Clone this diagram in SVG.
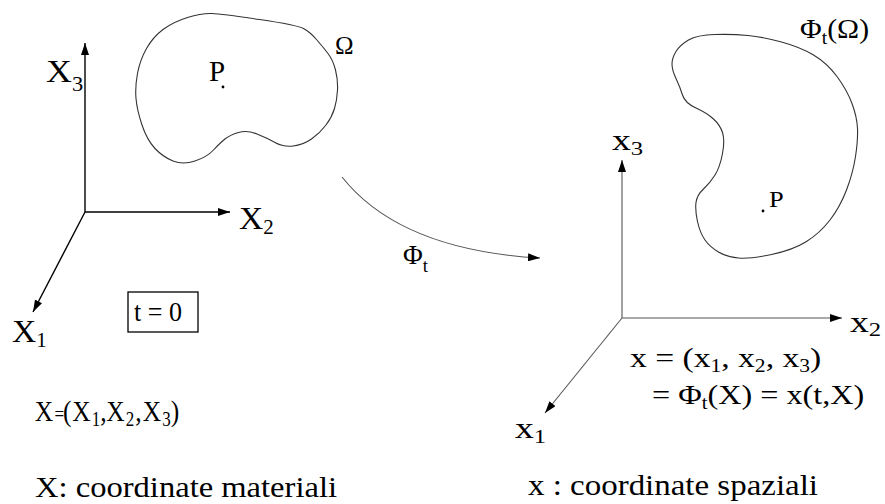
<svg xmlns="http://www.w3.org/2000/svg" width="885" height="504" viewBox="0 0 885 504" font-family="'Liberation Serif', 'Times New Roman', serif">
<style>
text{font-family:'Liberation Serif','Times New Roman',serif;fill:#000}
.ax{stroke:#000;stroke-width:1.4;fill:none}
.ax2{stroke:#555;stroke-width:1.1;fill:none}
.blob{stroke:#333;stroke-width:1.1;fill:none}
</style>
<defs>
<marker id="ah" viewBox="0 0 12 8" refX="12" refY="4" markerWidth="12" markerHeight="8" markerUnits="userSpaceOnUse" orient="auto">
<path d="M0,0 L12,4 L0,8 z" fill="#000"/>
</marker>
</defs>
<rect width="885" height="504" fill="#fff"/>
<g id="connectors">
<line class="ax" x1="85" y1="212" x2="85" y2="43" marker-end="url(#ah)"/>
<line class="ax" x1="85" y1="212" x2="230" y2="212" marker-end="url(#ah)"/>
<line class="ax" x1="85" y1="212" x2="33" y2="312" marker-end="url(#ah)"/>
<path class="ax2" d="M342,177 Q400,250 540,258" marker-end="url(#ah)"/>
<line class="ax2" x1="622" y1="318" x2="622" y2="160" marker-end="url(#ah)"/>
<line class="ax2" x1="622" y1="318" x2="842" y2="318" marker-end="url(#ah)"/>
<line class="ax2" x1="622" y1="318" x2="545" y2="413" marker-end="url(#ah)"/>
</g>
<g id="omega">
<path class="blob" d="M187.5,17.5 Q202,13 212,13.5 Q222,14 259.5,19.5 Q297,25 303.5,28.5 Q310,32 316.5,39.5 Q323,47 328,53.5 Q333,60 335.5,70 Q338,80 337.5,90 Q337,100 334.5,108.5 Q332,117 326,125 Q320,133 311.5,139 Q303,145 293,146 Q283,147 275,142.5 Q267,138 257,134 Q247,130 238.5,132.5 Q230,135 225,139 Q220,143 213.5,150 Q207,157 195,161 Q183,165 173,161 Q163,157 155,148.5 Q147,140 142,125 Q137,110 136,98.5 Q135,87 137.5,73.5 Q140,60 146.5,48.5 Q153,37 163,29.5 Q173,22 187.5,17.5 Z"/>
<text x="209" y="81" font-size="29">P</text>
<circle cx="223" cy="87" r="1.4" fill="#000"/>
<text x="335" y="54" font-size="25">Ω</text>
</g>
<g id="phi-omega">
<path class="blob" d="M688.5,40 Q697,35 715,34.5 Q733,34 748,35.5 Q763,37 781.5,42 Q800,47 813.5,55 Q827,63 837,76.5 Q847,90 852,103.5 Q857,117 857.5,128.5 Q858,140 855.5,156.5 Q853,173 846.5,190 Q840,207 830,220 Q820,233 806.5,241.5 Q793,250 771.5,254.5 Q750,259 738.5,258 Q727,257 718.5,252 Q710,247 705,240 Q700,233 697.5,221.5 Q695,210 696,202.5 Q697,195 703.5,189 Q710,183 715,175 Q720,167 722.5,153.5 Q725,140 722.5,132.5 Q720,125 713.5,119 Q707,113 696,108 Q685,103 682.5,95 Q680,87 676,78.5 Q672,70 672,64 Q672,58 676,51.5 Q680,45 688.5,40 Z"/>
<text transform="translate(769,207) scale(1.1,1)" font-size="24">P</text>
<circle cx="763" cy="211" r="1.4" fill="#000"/>
<text transform="translate(800,38) scale(1.1,1)" font-size="27">Φ<tspan font-size="18" dy="6">t</tspan><tspan dy="-6">(Ω)</tspan></text>
</g>
<g id="left-axes-labels">
<text transform="translate(46,82) scale(1.12,1)" font-size="32">X<tspan font-size="20" dy="9">3</tspan></text>
<text transform="translate(239,229) scale(1.05,1)" font-size="32">X<tspan font-size="20" dy="5">2</tspan></text>
<text transform="translate(12,342) scale(1.05,1)" font-size="32">X<tspan font-size="20" dy="5">1</tspan></text>
</g>
<g id="t0">
<rect x="128" y="292" width="70" height="40" fill="none" stroke="#000" stroke-width="1.3"/>
<text x="134" y="321" font-size="28" textLength="48" lengthAdjust="spacingAndGlyphs">t = 0</text>
</g>
<g id="phi-label">
<text x="403" y="264" font-size="27">Φ<tspan font-size="19" dy="8">t</tspan></text>
</g>
<g id="right-axes-labels">
<text transform="translate(612,150) scale(1.3,1)" font-size="29">x<tspan font-size="19" dy="5">3</tspan></text>
<text transform="translate(850,332) scale(1.3,1)" font-size="29">x<tspan font-size="19" dy="4">2</tspan></text>
<text transform="translate(515,438) scale(1.3,1)" font-size="29">x<tspan font-size="19" dy="5">1</tspan></text>
</g>
<g id="material-eq">
<text transform="scale(0.85,1)" font-size="30" y="421"><tspan x="41">X</tspan><tspan x="64" font-size="20">=</tspan><tspan x="74">(</tspan><tspan x="85">X</tspan><tspan x="108" font-size="20" dy="5">1</tspan><tspan x="118" dy="-5">,</tspan><tspan x="125">X</tspan><tspan x="148" font-size="20" dy="5">2</tspan><tspan x="159" dy="-5">,</tspan><tspan x="168">X</tspan><tspan x="191" font-size="20" dy="5">3</tspan><tspan x="201" dy="-5">)</tspan></text>
<text x="35" y="497" font-size="30" textLength="302" lengthAdjust="spacingAndGlyphs">X: coordinate materiali</text>
</g>
<g id="spatial-eq">
<text transform="translate(630,367) scale(1.2,1)" font-size="28">x = (x<tspan font-size="18" dy="5">1</tspan><tspan dy="-5">, x</tspan><tspan font-size="18" dy="5">2</tspan><tspan dy="-5">, x</tspan><tspan font-size="18" dy="5">3</tspan><tspan dy="-5">)</tspan></text>
<text transform="translate(652,404) scale(1.15,1)" font-size="28">= Φ<tspan font-size="18" dy="5">t</tspan><tspan dy="-5">(X) = x(t,X)</tspan></text>
<text x="528" y="495" font-size="30" textLength="290" lengthAdjust="spacingAndGlyphs">x : coordinate spaziali</text>
</g>
</svg>
